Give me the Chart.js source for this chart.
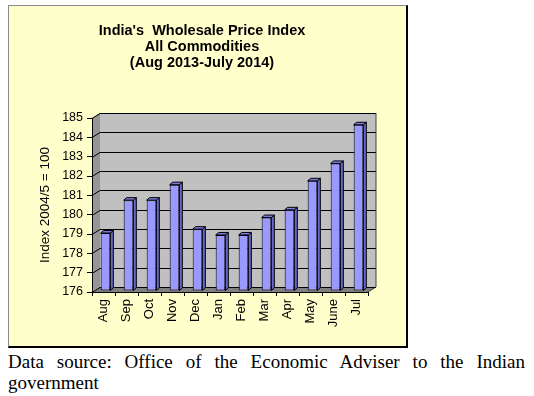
<!DOCTYPE html>
<html>
<head>
<meta charset="utf-8">
<script src="https://cdn.jsdelivr.net/npm/chart.js@4/dist/chart.umd.min.js"></script>
<style>
  body { margin: 0; background: #fff; }
  #box {
    position: absolute; left: 8px; top: 5px; width: 400px; height: 343px;
    box-sizing: border-box; background: #ffffcc;
    border: 1px solid #8c8c8c; border-right: 2px solid #000; border-bottom: 2px solid #000;
  }
  #holder { position: relative; width: 397px; height: 340px; }
  #src {
    position: absolute; left: 8px; top: 351px; width: 517px; margin: 0;
    font: 19px/21px "Liberation Serif", "Times New Roman", serif;
    text-align: justify; color: #000;
  }
</style>
</head>
<body>
<div id="box"><div id="holder"><canvas id="wpi"></canvas></div></div>
<p id="src">Data source: Office of the Economic Adviser to the Indian government</p>

<script>
const months = ['Aug', 'Sep', 'Oct', 'Nov', 'Dec', 'Jan', 'Feb', 'Mar', 'Apr', 'May', 'June', 'Jul'];
const wpi = [179.0, 180.7, 180.7, 181.5, 179.2, 178.9, 178.9, 179.8, 180.2, 181.7, 182.6, 184.6];
const yMin = 176;
const yMax = 185;
const titleLines = ["India's  Wholesale Price Index", 'All Commodities', '(Aug 2013-July 2014)'];
const yTitle = 'Index 2004/5 = 100';

const FONT = '"Liberation Sans", Arial, sans-serif';

// walls + floor of the fake 3D plot, and the depth faces of the bars
const depth3d = {
    id: 'depth3d',
    beforeDraw(chart) {
        const {ctx, chartArea: a, scales: {y}} = chart;
        const dx = 8, dy = -5;
        ctx.save();
        // left wall
        ctx.fillStyle = '#969696';
        ctx.beginPath();
        ctx.moveTo(a.left, a.top);
        ctx.lineTo(a.left + dx, a.top + dy);
        ctx.lineTo(a.left + dx, a.bottom + dy);
        ctx.lineTo(a.left, a.bottom);
        ctx.closePath();
        ctx.fill();
        // floor
        ctx.fillStyle = '#808080';
        ctx.beginPath();
        ctx.moveTo(a.left, a.bottom);
        ctx.lineTo(a.right, a.bottom);
        ctx.lineTo(a.right + dx, a.bottom + dy);
        ctx.lineTo(a.left + dx, a.bottom + dy);
        ctx.closePath();
        ctx.fill();
        // back wall
        ctx.fillStyle = '#c0c0c0';
        ctx.fillRect(a.left + dx, a.top + dy, a.right - a.left, a.bottom - a.top);
        ctx.strokeStyle = '#404040';
        ctx.lineWidth = 1;
        ctx.beginPath();
        ctx.moveTo(a.right + dx, a.top + dy);
        ctx.lineTo(a.right + dx, a.bottom + dy);
        ctx.lineTo(a.right, a.bottom);
        ctx.stroke();
        // grid lines running over the left wall and the back wall
        ctx.strokeStyle = '#000';
        y.ticks.forEach(t => {
            const py = Math.round(y.getPixelForValue(t.value)) + 0.5;
            ctx.beginPath();
            ctx.moveTo(a.left, py);
            ctx.lineTo(a.left + dx, py + dy);
            ctx.lineTo(a.right + dx, py + dy);
            ctx.stroke();
        });
        ctx.restore();
    },
    beforeDatasetsDraw(chart) {
        chart.ctx.save();
        chart.ctx.translate(2, -1);
    },
    afterDatasetsDraw(chart) {
        const ctx = chart.ctx;
        const bx = 3, by = -2.5;
        ctx.lineWidth = 1;
        ctx.strokeStyle = '#000';
        chart.getDatasetMeta(0).data.forEach(bar => {
            const {x, y, base, width} = bar.getProps(['x', 'y', 'base', 'width'], true);
            const l = x - width / 2, r = x + width / 2;
            ctx.fillStyle = '#6666c8';
            ctx.beginPath();
            ctx.moveTo(r, y);
            ctx.lineTo(r + bx, y + by);
            ctx.lineTo(r + bx, base + by);
            ctx.lineTo(r, base);
            ctx.closePath();
            ctx.fill();
            ctx.stroke();
            ctx.fillStyle = '#7c7ce0';
            ctx.beginPath();
            ctx.moveTo(l, y);
            ctx.lineTo(l + bx, y + by);
            ctx.lineTo(r + bx, y + by);
            ctx.lineTo(r, y);
            ctx.closePath();
            ctx.fill();
            ctx.stroke();
        });
        ctx.restore();
    }
};

const ctx = document.getElementById('wpi');
const myChart = new Chart(ctx, {
    type: 'bar',
    data: {
        labels: months,
        datasets: [{
            data: wpi,
            base: yMin,
            backgroundColor: '#9999ff',
            borderColor: '#000',
            borderWidth: 1,
            borderSkipped: false,
            barPercentage: 0.42,
            categoryPercentage: 1
        }]
    },
    options: {
        responsive: true,
        maintainAspectRatio: false,
        animation: false,
        layout: { padding: { left: 0, top: 0, right: 11, bottom: 0 } },
        plugins: {
            legend: { display: false },
            tooltip: { enabled: false },
            title: {
                display: true,
                text: titleLines,
                color: '#000',
                font: { family: FONT, size: 14.5, weight: 'bold', lineHeight: 1.125 },
                padding: { top: 16.5, bottom: 46.6 }
            }
        },
        scales: {
            x: {
                grid: { display: true, drawOnChartArea: false, drawTicks: true, tickLength: 4, color: '#000', offset: true },
                border: { display: true, color: '#000', width: 1 },
                ticks: {
                    color: '#000', font: { family: FONT, size: 13 },
                    minRotation: 90, maxRotation: 90, padding: 3, autoSkip: false
                },
                afterFit(scale) {
                    scale.height = 54;
                    scale.paddingRight = 38;
                }
            },
            y: {
                min: yMin,
                max: yMax,
                grid: { display: true, drawOnChartArea: false, drawTicks: true, tickLength: 5, color: '#000' },
                border: { display: true, color: '#000', width: 1 },
                ticks: { stepSize: 1, color: '#000', font: { family: FONT, size: 12.5 }, padding: 4 },
                title: {
                    display: true,
                    text: yTitle,
                    color: '#000',
                    font: { family: FONT, size: 13.5 },
                    padding: { top: 28, bottom: 0 }
                },
                afterFit(scale) {
                    scale.width = 83;
                }
            }
        }
    },
    plugins: [depth3d]
});
</script>
</body>
</html>
